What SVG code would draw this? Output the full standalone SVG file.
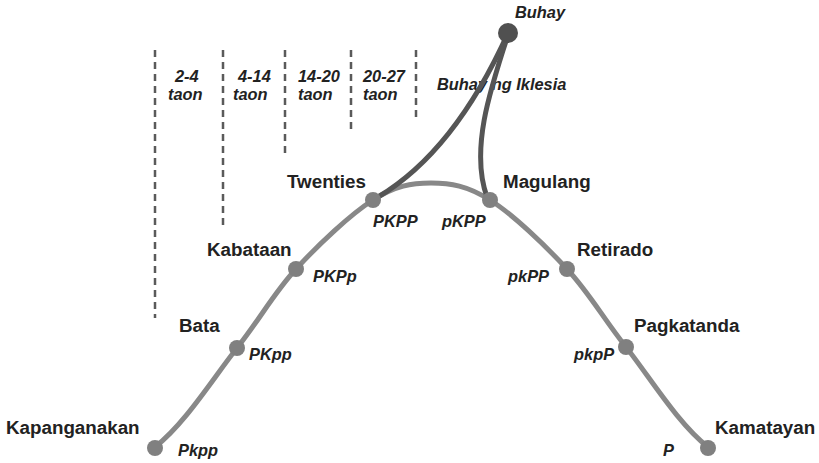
<svg xmlns="http://www.w3.org/2000/svg" width="819" height="463" viewBox="0 0 819 463">
<style>
.lbl{font-family:"Liberation Sans",Arial,sans-serif;font-weight:bold;font-size:18.8px;fill:#222}
.sub{font-family:"Liberation Sans",Arial,sans-serif;font-weight:bold;font-style:italic;font-size:16.4px;fill:#222}
.dash{stroke:#5a5a5a;stroke-width:2.5;stroke-dasharray:7,5;fill:none}
.main{stroke:#888;stroke-width:5;fill:none;stroke-linecap:round}
.dark{stroke:#555;stroke-width:5;fill:none;stroke-linecap:round}
.pt{fill:#808080}
</style>
<rect width="819" height="463" fill="#fff"/>
<g id="age-dividers">
<line class="dash" x1="155" y1="50" x2="155" y2="318"/>
<line class="dash" x1="223" y1="50" x2="223" y2="226"/>
<line class="dash" x1="285" y1="50" x2="285" y2="158"/>
<line class="dash" x1="351" y1="50" x2="351" y2="132"/>
<line class="dash" x1="416" y1="50" x2="416" y2="121"/>
</g>
<g id="age-labels">
<text class="sub" x="175" y="82">2-4</text><text class="sub" x="168" y="100">taon</text>
<text class="sub" x="238" y="82">4-14</text><text class="sub" x="233" y="100">taon</text>
<text class="sub" x="298" y="82">14-20</text><text class="sub" x="298" y="100">taon</text>
<text class="sub" x="363" y="82">20-27</text><text class="sub" x="363" y="100">taon</text>
</g>
<text class="sub" x="437" y="90">Buhay ng Iklesia</text>
<g id="connectors">
<path class="main" d="M155,447 C185,423.7 213.5,377.7 237,348 C260.5,318.3 273.3,293.7 296,269 C318.7,244.3 350.5,214.3 373,200 C395.5,185.7 411.5,183 431,183 C450.5,183 467.3,185.7 490,200 C512.7,214.3 544.3,244.5 567,269 C589.7,293.5 602.5,317.3 626,347 C649.5,376.7 678,423.7 708,447"/>
<path class="dark" d="M508,33 C480,95 440,160 378,197"/>
<path class="dark" d="M508,35 C490,90 470,150 487,197"/>
</g>
<g id="buhay"><circle cx="508" cy="33" r="10" fill="#505050"/><text class="sub" x="515" y="18">Buhay</text></g>
<g id="kapanganakan"><circle class="pt" cx="155" cy="448" r="8"/><text class="lbl" x="6" y="434">Kapanganakan</text><text class="sub" x="178" y="456">Pkpp</text></g>
<g id="bata"><circle class="pt" cx="237" cy="348" r="8"/><text class="lbl" x="179" y="332">Bata</text><text class="sub" x="249" y="360">PKpp</text></g>
<g id="kabataan"><circle class="pt" cx="296" cy="269" r="8"/><text class="lbl" x="207" y="256">Kabataan</text><text class="sub" x="313" y="282">PKPp</text></g>
<g id="twenties"><circle class="pt" cx="373" cy="200" r="8"/><text class="lbl" x="287" y="188">Twenties</text><text class="sub" x="373" y="227">PKPP</text></g>
<g id="magulang"><circle class="pt" cx="490" cy="200" r="8"/><text class="lbl" x="503" y="188">Magulang</text><text class="sub" x="442" y="227">pKPP</text></g>
<g id="retirado"><circle class="pt" cx="567" cy="269" r="8"/><text class="lbl" x="577" y="256">Retirado</text><text class="sub" x="508" y="282">pkPP</text></g>
<g id="pagkatanda"><circle class="pt" cx="626" cy="347" r="8"/><text class="lbl" x="634" y="332">Pagkatanda</text><text class="sub" x="574" y="360">pkpP</text></g>
<g id="kamatayan"><circle class="pt" cx="708" cy="448" r="8"/><text class="lbl" x="715" y="434">Kamatayan</text><text class="sub" x="663" y="456">P</text></g>
</svg>
